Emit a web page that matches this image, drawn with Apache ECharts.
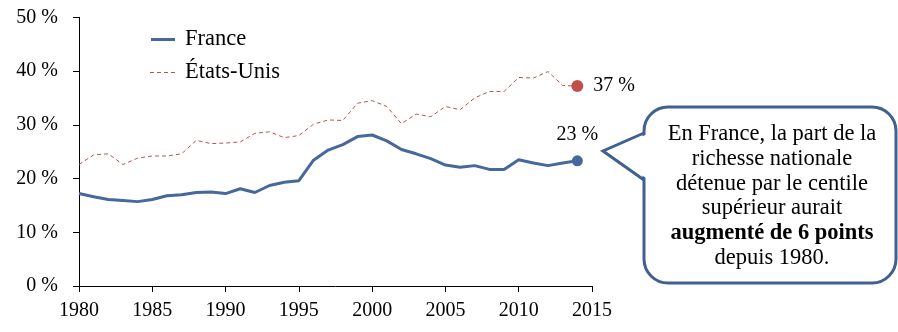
<!DOCTYPE html>
<html><head><meta charset="utf-8">
<script src="https://cdn.jsdelivr.net/npm/echarts@6/dist/echarts.min.js"></script>
<style>html,body{margin:0;padding:0;background:#fff}#c{width:898px;height:332px}</style>
</head><body><div id="c"></div>
<script>
const years = [1980,1981,1982,1983,1984,1985,1986,1987,1988,1989,1990,1991,1992,1993,1994,1995,1996,1997,1998,1999,2000,2001,2002,2003,2004,2005,2006,2007,2008,2009,2010,2011,2012,2013,2014];
const france = [17.2,16.6,16.1,15.9,15.7,16.1,16.8,17.0,17.4,17.5,17.2,18.1,17.4,18.7,19.3,19.6,23.4,25.3,26.3,27.8,28.1,27.0,25.4,24.6,23.7,22.5,22.1,22.4,21.7,21.7,23.5,22.9,22.4,22.9,23.3];
const usa = [22.6,24.4,24.6,22.6,23.8,24.2,24.2,24.6,27.1,26.5,26.6,26.8,28.4,28.7,27.6,28.0,30.1,30.9,30.8,34.0,34.5,33.4,30.2,32.0,31.5,33.4,32.8,35.0,36.2,36.2,38.8,38.7,39.9,37.3,37.2];
const seriesNames = ['France','États-Unis'];
const endLabels = ['23 %','37 %'];
const calloutLines = ['En France, la part de la','richesse nationale','détenue par le centile','supérieur aurait','augmenté de 6 points','depuis 1980.'];

const FONT = 'Liberation Serif';
const BLUE = '#46689c';
const RED = '#c0504d';
const BORDER = '#3f6090';
const FS = 20;

const pairs = vals => vals.map((v, i) => [years[i], v]);
const last = vals => [[years[vals.length - 1], vals[vals.length - 1]]];

// legend icons: 30x14 box (tiny corner dots fix the bounding box)
const BOX = 'M0,0h0.01v0.01h-0.01z M29.99,13.99h0.01v0.01h-0.01z ';
const solidIcon = 'path://' + BOX + 'M1,5.5h24v3h-24z';
const dashIcon = 'path://' + BOX + 'M0,6.5h4v1h-4z M7,6.5h4v1h-4z M14,6.5h4v1h-4z M21,6.5h4v1h-4z';

const chart = echarts.init(document.getElementById('c'), null, {renderer: 'canvas'});
const bx0 = 644, by0 = 107, bx1 = 896, by1 = 283;

chart.setOption({
  animation: false,
  textStyle: {fontFamily: FONT},
  grid: {left: 79, right: 306, top: 17.3, bottom: 46, containLabel: false},
  legend: {
    orient: 'vertical', left: 145, top: 23, itemWidth: 30, itemHeight: 14, itemGap: 10,
    textStyle: {fontFamily: FONT, fontSize: 22.5, color: '#000'},
    data: [{name: seriesNames[0], icon: solidIcon}, {name: seriesNames[1], icon: dashIcon}]
  },
  xAxis: {
    type: 'value', min: 1980, max: 2015, interval: 5,
    axisLine: {lineStyle: {color: '#000', width: 1}},
    axisTick: {show: true, length: 6, lineStyle: {color: '#000'}},
    axisLabel: {color: '#000', fontFamily: FONT, fontSize: FS, margin: 15, formatter: v => String(v)},
    splitLine: {show: false}
  },
  yAxis: {
    type: 'value', min: 0, max: 50, interval: 10,
    axisLine: {show: true, lineStyle: {color: '#000', width: 1}},
    axisTick: {show: true, length: 6, lineStyle: {color: '#000'}},
    axisLabel: {color: '#000', fontFamily: FONT, fontSize: FS, margin: 21, formatter: '{value} %'},
    splitLine: {show: false}
  },
  series: [
    {name: seriesNames[0], type: 'line', symbol: 'none', z: 3,
     lineStyle: {color: BLUE, width: 3}, itemStyle: {color: BLUE},
     data: pairs(france)},
    {name: seriesNames[1], type: 'line', symbol: 'none', z: 2,
     lineStyle: {color: RED, width: 1, type: [4, 3]}, itemStyle: {color: RED},
     data: pairs(usa)},
    {name: 'fr-end', type: 'scatter', symbol: 'circle', symbolSize: 11, z: 4,
     itemStyle: {color: BLUE, opacity: 1},
     label: {show: true, formatter: endLabels[0], position: 'top', distance: 11,
             color: '#000', fontFamily: FONT, fontSize: FS},
     data: last(france)},
    {name: 'us-end', type: 'scatter', symbol: 'circle', symbolSize: 12, z: 4,
     itemStyle: {color: RED, opacity: 1},
     label: {show: true, formatter: endLabels[1], position: 'right', distance: 10,
             color: '#000', fontFamily: FONT, fontSize: FS},
     data: last(usa)}
  ],
  graphic: [
    {type: 'rect', shape: {x: bx0, y: by0, width: bx1 - bx0, height: by1 - by0, r: 24},
     style: {fill: '#fff', stroke: BORDER, lineWidth: 3}, z: 10},
    {type: 'polygon', shape: {points: [[647, 134.5], [603, 151], [647, 178.5]]},
     style: {fill: '#fff', stroke: null}, z: 11},
    {type: 'polyline', shape: {points: [[bx0, 133], [603, 151], [bx0, 180]]},
     style: {fill: null, stroke: BORDER, lineWidth: 3, lineJoin: 'miter'}, z: 12},
    {type: 'text', x: 772, y: 196, z: 13,
     style: {
       text: calloutLines.map((t, i) => i === 4 ? '{b|' + t + '}' : '{n|' + t + '}').join('\n'),
       align: 'center', verticalAlign: 'middle',
       rich: {
         n: {fontFamily: FONT, fontSize: 22.5, lineHeight: 24.7, fill: '#000', align: 'center'},
         b: {fontFamily: FONT, fontSize: 22.5, lineHeight: 24.7, fontWeight: 'bold', fill: '#000', align: 'center'}
       }
     }}
  ]
});
</script></body></html>
